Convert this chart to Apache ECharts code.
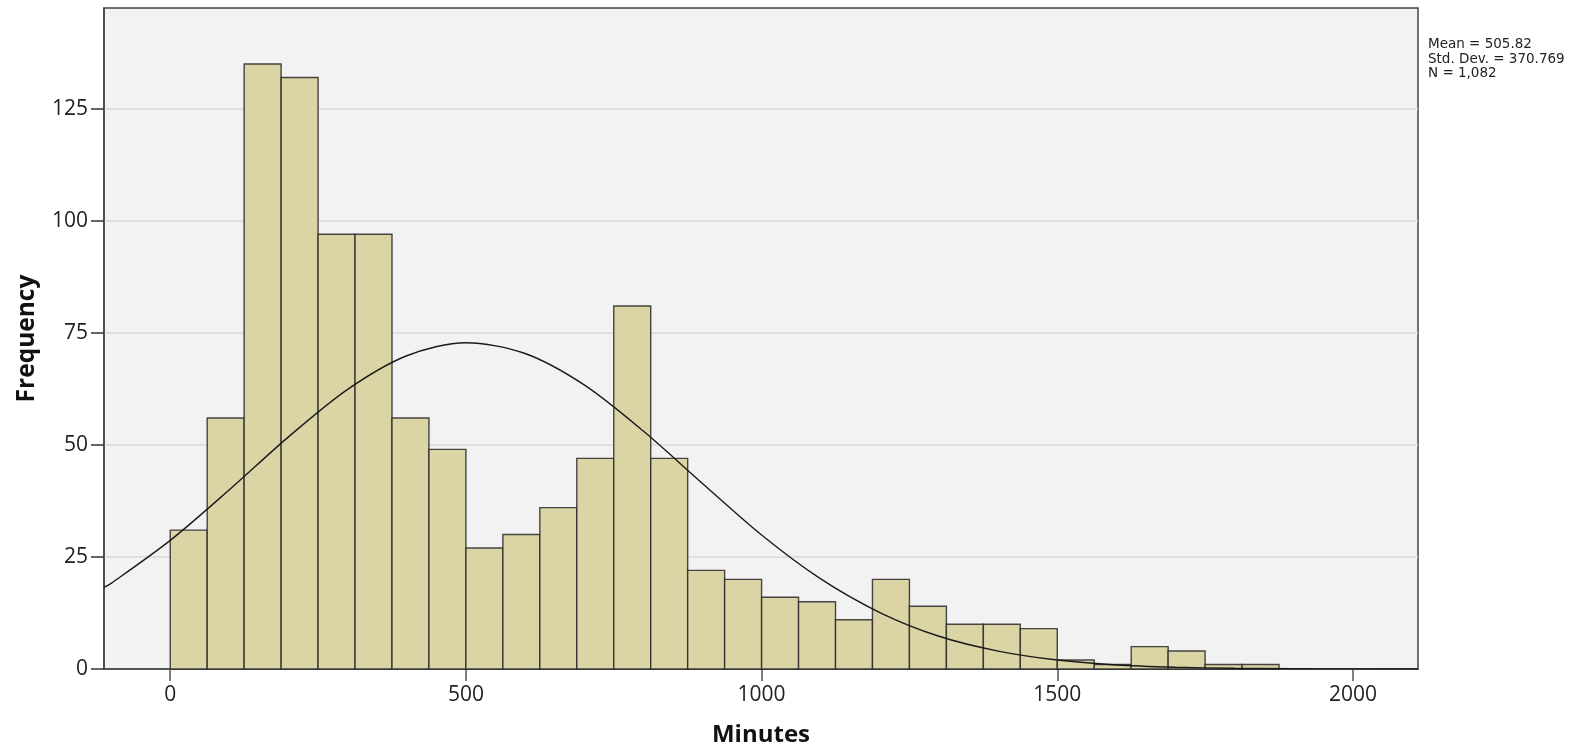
<!DOCTYPE html>
<html>
<head>
<meta charset="utf-8">
<title>Minutes histogram</title>
<script src="https://cdn.jsdelivr.net/npm/echarts@6/dist/echarts.min.js"></script>
<style>
  html, body { margin: 0; padding: 0; background: #fff; }
  #chart { width: 1585px; height: 748px; }
</style>
</head>
<body>
<div id="chart"></div>
<script>
// bin starts (minutes), each bin is 62.5 wide
var binStarts = [0, 62.5, 125, 187.5, 250, 312.5, 375, 437.5, 500, 562.5,
                 625, 687.5, 750, 812.5, 875, 937.5, 1000, 1062.5, 1125, 1187.5,
                 1250, 1312.5, 1375, 1437.5, 1500, 1562.5, 1625, 1687.5, 1750, 1812.5];
var binWidth = 62.5;
var counts = [31, 56, 135, 132, 97, 97, 56, 49, 27, 30,
              36, 47, 81, 47, 22, 20, 16, 15, 11, 20,
              14, 10, 10, 9, 2, 1, 5, 4, 1, 1];

// normal curve
var curveX = [-112, -100, 0, 100, 200, 300, 400, 500, 600, 700, 800, 900, 1000,
              1100, 1200, 1300, 1400, 1500, 1600, 1700, 1800, 1900, 2000, 2110];
var curveY = [18.2, 19.1, 28.7, 40.0, 51.8, 62.4, 69.9, 72.8, 70.4, 63.4, 53.1, 41.4, 29.9,
              20.1, 12.6, 7.3, 4.0, 2.0, 0.9, 0.4, 0.16, 0.06, 0.02, 0.0];

var xTicks = [0, 500, 1000, 1500, 2000];
var yTicks = [0, 25, 50, 75, 100, 125];

var statsText = 'Mean = 505.82\nStd. Dev. = 370.769\nN = 1,082';

var histData = binStarts.map(function (s, i) {
    return [s, s + binWidth, counts[i]];
});
var curveData = curveX.map(function (x, i) {
    return [x, curveY[i]];
});

var myChart = echarts.init(document.getElementById('chart'));

myChart.setOption({
    animation: false,
    backgroundColor: '#ffffff',
    title: {
        text: statsText,
        left: 1423,
        top: 32,
        textStyle: {
            fontFamily: 'DejaVu Sans',
            fontSize: 13.5,
            fontWeight: 'normal',
            lineHeight: 14.7,
            color: '#222'
        }
    },
    grid: {
        left: 104,
        right: 167,
        top: 8,
        bottom: 79,
        outerBoundsMode: 'none',
        show: true,
        backgroundColor: '#f2f2f2',
        borderColor: '#444',
        borderWidth: 1.5
    },
    xAxis: {
        type: 'value',
        min: -112,
        max: 2110,
        name: 'Minutes',
        nameLocation: 'middle',
        nameGap: 54,
        nameTextStyle: {
            fontFamily: 'Open Sans',
            fontSize: 24,
            fontWeight: 'bold',
            color: '#111'
        },
        axisLine: { onZero: false, lineStyle: { color: '#333', width: 1.5 } },
        axisTick: {
            show: true,
            length: 12,
            customValues: xTicks,
            lineStyle: { color: '#555', width: 1.5 }
        },
        axisLabel: {
            customValues: xTicks,
            margin: 16,
            fontFamily: 'Open Sans',
            fontSize: 21,
            color: '#222',
            formatter: function (v) { return String(v); }
        },
        splitLine: { show: false }
    },
    yAxis: {
        type: 'value',
        min: 0,
        max: 147.5,
        interval: 25,
        name: 'Frequency',
        nameLocation: 'middle',
        nameGap: 64,
        nameTextStyle: {
            fontFamily: 'Open Sans',
            fontSize: 24.5,
            fontWeight: 'bold',
            color: '#111'
        },
        axisLine: { show: true, onZero: false, lineStyle: { color: '#444', width: 1.5 } },
        axisTick: {
            show: true,
            length: 13,
            customValues: yTicks,
            lineStyle: { color: '#333', width: 1.5 }
        },
        axisLabel: {
            customValues: yTicks,
            margin: 16,
            fontFamily: 'Open Sans',
            fontSize: 21,
            color: '#222'
        },
        splitLine: { show: true, lineStyle: { color: '#d9d9d9', width: 1.5 } }
    },
    series: [
        {
            name: 'Frequency',
            type: 'custom',
            data: histData,
            encode: { x: [0, 1], y: 2 },
            renderItem: function (params, api) {
                var p0 = api.coord([api.value(0), 0]);
                var p1 = api.coord([api.value(1), api.value(2)]);
                return {
                    type: 'rect',
                    shape: {
                        x: p0[0],
                        y: p1[1],
                        width: p1[0] - p0[0],
                        height: p0[1] - p1[1]
                    },
                    style: {
                        fill: '#dbd5a5',
                        stroke: 'rgba(40,40,40,0.85)',
                        lineWidth: 1.4
                    }
                };
            },
            z: 2
        },
        {
            name: 'Normal',
            type: 'line',
            data: curveData,
            smooth: 0.3,
            symbol: 'none',
            lineStyle: { color: '#1a1a1a', width: 1.4 },
            z: 3
        }
    ]
});
</script>
</body>
</html>
